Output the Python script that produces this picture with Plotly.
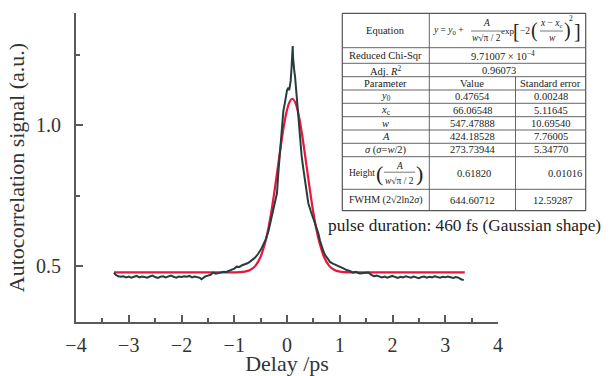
import plotly.graph_objects as go

# ---------------- data ----------------
delay_meas = [-3.28, -3.25, -3.2, -3.15, -3.1, -3.05, -3.0, -2.95, -2.9, -2.85, -2.8, -2.75, -2.7,
              -2.65, -2.6, -2.55, -2.5, -2.45, -2.4, -2.35, -2.3, -2.25, -2.2, -2.15, -2.1, -2.05,
              -2.0, -1.95, -1.9, -1.85, -1.8, -1.75, -1.7, -1.65, -1.62, -1.58, -1.55, -1.5, -1.45,
              -1.4, -1.35, -1.3, -1.25, -1.2, -1.15, -1.1, -1.05, -1.0, -0.95, -0.9, -0.85, -0.8,
              -0.75, -0.7, -0.65, -0.6, -0.55, -0.5, -0.45, -0.4, -0.35, -0.3, -0.25, -0.21, -0.19,
              -0.165, -0.13, -0.1, -0.07, -0.04, -0.02, 0.0, 0.025, 0.04, 0.055, 0.07, 0.085, 0.1,
              0.108, 0.115, 0.125, 0.14, 0.152, 0.17, 0.196, 0.215, 0.234, 0.255, 0.278, 0.31, 0.34,
              0.37, 0.404, 0.45, 0.5, 0.53, 0.56, 0.594, 0.625, 0.657, 0.69, 0.72, 0.77, 0.815, 0.87,
              0.94, 1.0, 1.07, 1.13, 1.19, 1.25, 1.3, 1.38, 1.44, 1.5, 1.54, 1.6, 1.65, 1.7, 1.76,
              1.8, 1.85, 1.9, 1.95, 2.0, 2.05, 2.1, 2.15, 2.2, 2.25, 2.3, 2.35, 2.4, 2.45, 2.5, 2.55,
              2.6, 2.65, 2.7, 2.75, 2.8, 2.85, 2.9, 2.95, 3.0, 3.05, 3.1, 3.15, 3.2, 3.25, 3.3, 3.35,
              3.37]
signal_meas = [0.476, 0.468, 0.463, 0.461, 0.463, 0.459, 0.462, 0.458, 0.461, 0.464, 0.459, 0.462, 0.460,
               0.458, 0.462, 0.465, 0.460, 0.457, 0.461, 0.463, 0.459, 0.462, 0.465, 0.461, 0.458, 0.462,
               0.460, 0.463, 0.461, 0.464, 0.459, 0.462, 0.460, 0.457, 0.452, 0.458, 0.462, 0.465, 0.468,
               0.476, 0.472, 0.474, 0.477, 0.479, 0.478, 0.482, 0.484, 0.490, 0.497, 0.496, 0.502, 0.505,
               0.509, 0.515, 0.522, 0.530, 0.542, 0.556, 0.575, 0.595, 0.625, 0.670, 0.715, 0.752, 0.758,
               0.830, 0.920, 0.996, 1.050, 1.080, 1.100, 1.125, 1.134, 1.125, 1.140, 1.160, 1.200, 1.270,
               1.282, 1.240, 1.200, 1.190, 1.175, 1.130, 1.080, 1.020, 0.996, 0.940, 0.890, 0.845, 0.806,
               0.765, 0.723, 0.695, 0.669, 0.657, 0.640, 0.616, 0.590, 0.568, 0.552, 0.539, 0.525, 0.514,
               0.508, 0.503, 0.496, 0.491, 0.485, 0.482, 0.476, 0.479, 0.473, 0.475, 0.477, 0.476, 0.468,
               0.463, 0.465, 0.461, 0.459, 0.462, 0.458, 0.461, 0.464, 0.460, 0.457, 0.461, 0.459, 0.463,
               0.460, 0.458, 0.462, 0.459, 0.456, 0.460, 0.462, 0.458, 0.461, 0.459, 0.463, 0.460, 0.458,
               0.461, 0.459, 0.462, 0.460, 0.457, 0.460, 0.458, 0.452, 0.449]

delay_fit = [-3.28, -1.1, -0.9, -0.8, -0.7, -0.6, -0.5, -0.4, -0.35, -0.3, -0.25, -0.2, -0.15, -0.1,
             -0.05, 0.0, 0.05, 0.1, 0.15, 0.2, 0.25, 0.3, 0.35, 0.4, 0.45, 0.5, 0.55, 0.6, 0.7, 0.8,
             0.9, 1.0, 1.1, 1.3, 3.37]
signal_fit = [0.4765, 0.4765, 0.4773, 0.4793, 0.4852, 0.4999, 0.5324, 0.5931, 0.6365, 0.6890, 0.7494,
              0.8155, 0.8838, 0.9498, 1.0084, 1.0547, 1.0843, 1.0947, 1.0843, 1.0547, 1.0084, 0.9498,
              0.8838, 0.8155, 0.7494, 0.6890, 0.6365, 0.5931, 0.5324, 0.4999, 0.4852, 0.4793, 0.4773,
              0.4765, 0.4765]

x_ticks = [-4, -3, -2, -1, 0, 1, 2, 3, 4]
y_ticks = [0.5, 1.0]
y_ticktext = ["0.5", "1.0"]

param_names = ["<i>y</i><sub>0</sub>", "<i>x</i><sub>c</sub>", "<i>w</i>", "<i>A</i>",
               "<i>σ</i> (<i>σ</i>=<i>w</i>/2)"]
param_values = ["0.47654", "66.06548", "547.47888", "424.18528", "273.73944"]
param_errors = ["0.00248", "5.11645", "10.69540", "7.76005", "5.34770"]
height_value, height_error = "0.61820", "0.01016"
fwhm_value, fwhm_error = "644.60712", "12.59287"
chi_sqr_text = "9.71007 × 10<sup>−4</sup>"
adj_r2_text = "0.96073"
note_text = "pulse duration: 460 fs (Gaussian shape)"

# ---------------- figure ----------------
W, H = 611, 376
L, R, T, B = 76, 498, 13, 322
SERIF = "Liberation Serif, Times New Roman, serif"
AX = "#5a5a5a"
TS = 10.5  # table font size


def px(x):
    return (x - L) / (R - L)


def py(y):
    return (B - y) / (B - T)


fig = go.Figure()
fig.add_trace(go.Scatter(x=delay_fit, y=signal_fit, mode="lines", line_shape="spline",
                         line=dict(color="#e8173c", width=2.2), showlegend=False, hoverinfo="skip"))
fig.add_trace(go.Scatter(x=delay_meas, y=signal_meas, mode="lines",
                         line=dict(color="#263d3d", width=2), showlegend=False))

shapes = []
annots = []


def hline(x0, x1, y, w=1.0):
    shapes.append(dict(type="line", xref="paper", yref="paper", x0=px(x0), x1=px(x1),
                       y0=py(y), y1=py(y), line=dict(color="#555", width=w)))


def vline(x, y0, y1, w=1.0):
    shapes.append(dict(type="line", xref="paper", yref="paper", x0=px(x), x1=px(x),
                       y0=py(y0), y1=py(y1), line=dict(color="#555", width=w)))


def txt(x, y, s, size=TS, anchor="center"):
    annots.append(dict(xref="paper", yref="paper", x=px(x), y=py(y), text=s, showarrow=False,
                       xanchor=anchor, yanchor="middle", borderpad=0,
                       font=dict(family=SERIF, size=size, color="#222")))


# table geometry
tl, c1, c2, tr = 342.3, 429.3, 515.5, 585.7
rows = [13.3, 47.7, 63.3, 76.7, 90, 103.3, 116.7, 130, 143.3, 156.7, 189.3, 210.7]
for y in rows:
    hline(tl, tr, y, 1.2 if y in (rows[0], rows[-1]) else 0.9)
vline(tl, rows[0], rows[-1], 1.2)
vline(tr, rows[0], rows[-1], 1.2)
vline(c1, rows[0], rows[-1], 0.9)
vline(c2, rows[3], rows[-1], 0.9)

col1c, col2c, col3c = (tl + c1) / 2, (c1 + c2) / 2, (c2 + tr) / 2


def mid(i):
    return (rows[i] + rows[i + 1]) / 2


txt(col1c, mid(0), "Equation")
txt(col1c, mid(1), "Reduced Chi-Sqr")
txt(col1c, mid(2), "Adj. <i>R</i><sup>2</sup>")
txt(col1c, mid(3), "Parameter")
txt(col2c, mid(3), "Value")
txt(col3c, mid(3), "Standard error")
txt(503, mid(1), chi_sqr_text)
txt(499, mid(2), adj_r2_text)
for i in range(5):
    txt(col1c, mid(4 + i), param_names[i])
    txt(col2c, mid(4 + i), param_values[i])
    txt(col3c, mid(4 + i), param_errors[i])

# Height row
ym = mid(9)
txt(347.5, ym, "Height", size=9.5, anchor="left")
txt(379, ym, "(", size=22)
txt(399.5, ym - 7, "<i>A</i>", size=9.5)
hline(384, 415, ym - 0.8, 0.8)
txt(399.5, ym + 8, "<i>w</i>√π / 2", size=9.5)
txt(419, ym, ")", size=22)
txt(474, ym, height_value)
txt(583, ym, height_error, anchor="right")

# FWHM row
ym = mid(10)
txt(347.5, ym, "FWHM (2√2ln2<i>σ</i>)", size=10, anchor="left")
txt(col2c, ym, fwhm_value)
txt(col3c + 2, ym, fwhm_error)

# Equation
ye = mid(0)
ES = 9.5
txt(448, ye, "<i>y</i> = <i>y</i><sub>0</sub> +", size=ES)
txt(486, ye - 7, "<i>A</i>", size=ES)
hline(471, 501, ye + 0.5, 0.8)
txt(486, ye + 8, "<i>w</i>√π / 2", size=ES)
txt(507, ye, "exp", size=9)
txt(516.5, ye, "[", size=20)
txt(525, ye, "−2", size=ES)
txt(534, ye, "(", size=20)
txt(551, ye - 7, "<i>x</i> − <i>x</i><sub>c</sub>", size=ES)
hline(540, 563, ye + 0.5, 0.8)
txt(552, ye + 8, "<i>w</i>", size=ES)
txt(567, ye, ")", size=20)
txt(571, ye - 12, "2", size=7.5)
txt(577, ye, "]", size=20)

annots.append(dict(xref="paper", yref="paper", x=px(327), y=py(225), text=note_text,
                   showarrow=False, xanchor="left", yanchor="middle", borderpad=0,
                   font=dict(family=SERIF, size=17.3, color="#222")))

fig.update_layout(
    width=W, height=H, autosize=False,
    margin=dict(l=L, r=W - R, t=T, b=H - B, pad=0, autoexpand=False),
    paper_bgcolor="white", plot_bgcolor="white",
    shapes=shapes, annotations=annots,
    xaxis=dict(range=[-4, 4], tickvals=x_ticks, ticks="inside", ticklen=7, tickwidth=1.5,
               tickcolor=AX, showline=True, linecolor=AX, linewidth=2, showgrid=False,
               zeroline=False, mirror=False, automargin=False,
               minor=dict(dtick=0.5, ticks="inside", ticklen=4, tickwidth=1.5, tickcolor=AX),
               tickfont=dict(family=SERIF, size=20, color="#333"), ticklabelstandoff=4,
               title=dict(text="Delay /ps", font=dict(family=SERIF, size=22, color="#333"),
                          standoff=8)),
    yaxis=dict(range=[0.3, 1.4], tickvals=y_ticks, ticktext=y_ticktext, ticks="inside",
               ticklen=7, tickwidth=1.5, tickcolor=AX, showline=True, linecolor=AX, linewidth=2,
               showgrid=False, zeroline=False, automargin=False,
               minor=dict(dtick=0.25, ticks="inside", ticklen=4, tickwidth=1.5, tickcolor=AX),
               tickfont=dict(family=SERIF, size=20, color="#333"), ticklabelstandoff=9,
               title=dict(text="Autocorrelation signal (a.u.)",
                          font=dict(family=SERIF, size=22, color="#333"), standoff=5)),
)

fig.write_html("out.html", config={"displayModeBar": False},
               post_script="document.body.style.margin='0';")
